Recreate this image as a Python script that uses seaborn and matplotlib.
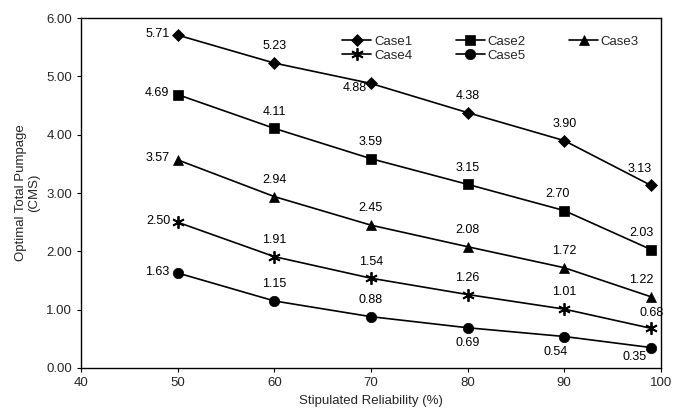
import matplotlib
matplotlib.use("Agg")
import matplotlib.pyplot as plt
import seaborn as sns
import pandas as pd

# --- data ---
reliability = [50, 60, 70, 80, 90, 99]
case1 = [5.71, 5.23, 4.88, 4.38, 3.90, 3.13]
case2 = [4.69, 4.11, 3.59, 3.15, 2.70, 2.03]
case3 = [3.57, 2.94, 2.45, 2.08, 1.72, 1.22]
case4 = [2.50, 1.91, 1.54, 1.26, 1.01, 0.68]
case5 = [1.63, 1.15, 0.88, 0.69, 0.54, 0.35]
case_names = ["Case1", "Case2", "Case3", "Case4", "Case5"]
markers = ["D", "s", "^", (6, 2, 0), "o"]
marker_sizes = [6, 7, 7.5, 9, 7.5]

rows = []
for name, vals in zip(case_names, [case1, case2, case3, case4, case5]):
    for x, y in zip(reliability, vals):
        rows.append({"Reliability": x, "Pumpage": y, "Case": name})
df = pd.DataFrame(rows)

sns.set_style("ticks")
plt.rcParams["font.family"] = ["Liberation Sans", "DejaVu Sans"]

fig = plt.figure(figsize=(6.83, 4.13), dpi=100)
ax = fig.add_axes([0.1186, 0.109, 0.849, 0.847])

for name, mk, ms in zip(case_names, markers, marker_sizes):
    sub = df[df["Case"] == name]
    sns.lineplot(data=sub, x="Reliability", y="Pumpage", ax=ax, color="black",
                 linewidth=1.2, marker=mk, markersize=ms, markeredgecolor="black",
                 markeredgewidth=1.3 if mk == (6, 2, 0) else 0.5, label=name)

# --- value labels (offset in points, alignment) ---
L = (-6, 1, "right")
offsets = {
    "Case1": [L, (0, 12, "center"), (-3, -3, "right"), (0, 12, "center"), (0, 12, "center"), (-8, 12, "center")],
    "Case2": [L, (0, 12, "center"), (0, 12, "center"), (0, 12, "center"), (-5, 12, "center"), (-7, 12, "center")],
    "Case3": [L, (0, 12, "center"), (0, 12, "center"), (0, 12, "center"), (0, 12, "center"), (-7, 12, "center")],
    "Case4": [(-5, 1, "right"), (0, 12, "center"), (0, 12, "center"), (0, 12, "center"), (0, 12, "center"), (0, 11, "center")],
    "Case5": [L, (0, 12, "center"), (0, 12, "center"), (0, -11, "center"), (-6, -11, "center"), (-12, -7, "center")],
}
for name, vals in zip(case_names, [case1, case2, case3, case4, case5]):
    for (x, y), (dx, dy, ha) in zip(zip(reliability, vals), offsets[name]):
        ax.annotate(f"{y:.2f}", (x, y), xytext=(dx, dy), textcoords="offset points",
                    ha=ha, va="center", fontsize=9, color="black")

ax.set_xlim(40, 100)
ax.set_ylim(0, 6)
ax.set_xticks([40, 50, 60, 70, 80, 90, 100])
ax.set_yticks([0, 1, 2, 3, 4, 5, 6])
ax.set_yticklabels([f"{v:.2f}" for v in range(7)])
ax.tick_params(labelsize=9.5, length=3, color="black")
ax.set_xlabel("Stipulated Reliability (%)", fontsize=9.5)
ax.set_ylabel("Optimal Total Pumpage\n(CMS)", fontsize=9.5)
for sp in ax.spines.values():
    sp.set_visible(True)
    sp.set_color("black")
    sp.set_linewidth(1.0)

# legend filled row by row like the original
handles, labels = ax.get_legend_handles_labels()
order = [0, 3, 1, 4, 2]
ax.legend([handles[i] for i in order], [labels[i] for i in order],
          ncol=3, frameon=False, loc="upper left", bbox_to_anchor=(0.43, 0.985),
          fontsize=9.5, handlelength=2.2, handletextpad=0.2, columnspacing=3.3,
          labelspacing=0.15)

fig.savefig("out.png", dpi=100)
